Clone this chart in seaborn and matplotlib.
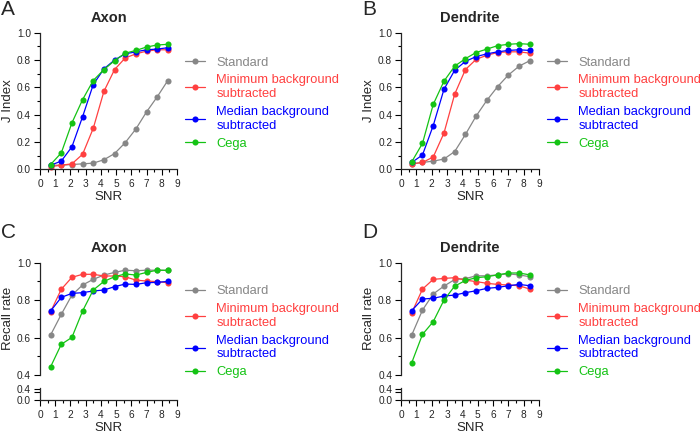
import matplotlib
matplotlib.use("Agg")
import matplotlib.pyplot as plt
from matplotlib.ticker import MultipleLocator, FormatStrFormatter, FixedLocator
import seaborn as sns

snr = [0.7, 1.4, 2.1, 2.8, 3.5, 4.2, 4.9, 5.6, 6.3, 7.0, 7.7, 8.4]
methods = ["Standard", "Minimum background\nsubtracted", "Median background\nsubtracted", "Cega"]
colors = ["#878787", "#FF4040", "#0000FF", "#14C314"]

# J index
axon_j_std = [0.03, 0.03, 0.035, 0.04, 0.045, 0.07, 0.115, 0.195, 0.295, 0.42, 0.53, 0.65]
axon_j_min = [0.02, 0.03, 0.04, 0.11, 0.30, 0.57, 0.73, 0.815, 0.845, 0.865, 0.875, 0.875]
axon_j_med = [0.03, 0.06, 0.165, 0.385, 0.62, 0.735, 0.80, 0.845, 0.86, 0.875, 0.88, 0.89]
axon_j_cega = [0.035, 0.12, 0.34, 0.51, 0.65, 0.73, 0.795, 0.85, 0.87, 0.895, 0.91, 0.915]

dend_j_std = [0.04, 0.05, 0.06, 0.075, 0.13, 0.255, 0.39, 0.505, 0.605, 0.69, 0.755, 0.795]
dend_j_min = [0.04, 0.05, 0.09, 0.265, 0.55, 0.73, 0.805, 0.835, 0.855, 0.86, 0.86, 0.85]
dend_j_med = [0.05, 0.105, 0.32, 0.585, 0.725, 0.79, 0.825, 0.845, 0.86, 0.87, 0.875, 0.87]
dend_j_cega = [0.055, 0.19, 0.475, 0.645, 0.755, 0.81, 0.855, 0.88, 0.905, 0.915, 0.92, 0.915]

# recall rate
axon_r_std = [0.614, 0.724, 0.827, 0.881, 0.911, 0.934, 0.948, 0.96, 0.957, 0.96, 0.96, 0.959]
axon_r_min = [0.738, 0.858, 0.922, 0.938, 0.938, 0.929, 0.929, 0.925, 0.907, 0.902, 0.899, 0.893]
axon_r_med = [0.742, 0.815, 0.836, 0.84, 0.849, 0.854, 0.872, 0.886, 0.884, 0.893, 0.895, 0.90]
axon_r_cega = [0.444, 0.564, 0.601, 0.742, 0.854, 0.90, 0.925, 0.94, 0.934, 0.948, 0.96, 0.959]

dend_r_std = [0.614, 0.747, 0.833, 0.875, 0.91, 0.915, 0.93, 0.93, 0.935, 0.94, 0.935, 0.925]
dend_r_min = [0.733, 0.859, 0.911, 0.916, 0.92, 0.907, 0.899, 0.89, 0.884, 0.881, 0.877, 0.859]
dend_r_med = [0.744, 0.806, 0.81, 0.822, 0.827, 0.84, 0.85, 0.863, 0.868, 0.877, 0.884, 0.877]
dend_r_cega = [0.466, 0.617, 0.685, 0.80, 0.875, 0.905, 0.92, 0.925, 0.935, 0.945, 0.945, 0.935]

sns.set_style("ticks")
plt.rcParams["font.family"] = ["Liberation Sans", "DejaVu Sans"]
plt.rcParams["axes.linewidth"] = 0.9


def style_ticks(ax):
  ax.tick_params(which="major", direction="out", length=4.0, width=0.8, labelsize=7.3, pad=2.4, color="black")
  ax.tick_params(which="minor", direction="out", length=2.3, width=0.8, color="black")
  ax.tick_params(axis="x", which="major", pad=3.2)


def draw_lines(ax, series, leg_y):
  for name, vals, col in zip(methods, series, colors):
    sns.lineplot(x=snr, y=vals, ax=ax, color=col, marker="o", markersize=4.4,
                 markeredgewidth=0, linewidth=0.9, label=name, clip_on=False)
  leg = ax.legend(loc="upper left", bbox_to_anchor=(1.06, leg_y), frameon=False, fontsize=9.3,
                  handlelength=1.55, handletextpad=0.85, labelspacing=0.45, borderpad=0, borderaxespad=0)
  for txt, col in zip(leg.get_texts(), colors):
    txt.set_color(col)


def setup_x(ax):
  ax.set_xlim(0, 9)
  ax.xaxis.set_major_locator(MultipleLocator(1))
  ax.xaxis.set_minor_locator(MultipleLocator(0.5))
  ax.set_xlabel("SNR", fontsize=9.5, labelpad=1.5)


def j_panel(rect, title, series):
  ax = fig.add_axes(rect)
  draw_lines(ax, series, 0.825)
  ax.set_ylim(0, 1.0)
  ax.yaxis.set_major_locator(MultipleLocator(0.2))
  ax.yaxis.set_minor_locator(MultipleLocator(0.1))
  ax.yaxis.set_major_formatter(FormatStrFormatter("%.1f"))
  setup_x(ax)
  ax.set_ylabel("J Index", fontsize=9.5, labelpad=2)
  ax.set_title(title, fontsize=10.5, fontweight="bold", pad=8)
  sns.despine(ax=ax)
  style_ticks(ax)
  return ax


def recall_panel(rect_top, rect_bot, title, series):
  ax = fig.add_axes(rect_top)
  axb = fig.add_axes(rect_bot)
  draw_lines(ax, series, 0.80)
  ax.set_ylim(0.4, 1.0)
  ax.yaxis.set_major_locator(MultipleLocator(0.2))
  ax.yaxis.set_minor_locator(MultipleLocator(0.1))
  ax.yaxis.set_major_formatter(FormatStrFormatter("%.1f"))
  ax.set_xlim(0, 9)
  ax.set_xlabel("")
  ax.set_xticks([])
  ax.set_ylabel("Recall rate", fontsize=9.5, labelpad=2)
  ax.set_title(title, fontsize=10.5, fontweight="bold", pad=8)
  sns.despine(ax=ax, bottom=True)
  style_ticks(ax)
  ax.tick_params(bottom=False, labelbottom=False)

  # short lower segment of the broken y axis
  axb.set_ylim(0, 0.44)
  axb.yaxis.set_major_locator(FixedLocator([0.0, 0.4]))
  axb.yaxis.set_minor_locator(FixedLocator([0.3]))
  axb.yaxis.set_major_formatter(FormatStrFormatter("%.1f"))
  setup_x(axb)
  sns.despine(ax=axb)
  style_ticks(axb)
  axb.tick_params(axis="y", which="minor", length=4.0)
  return ax, axb


fig = plt.figure(figsize=(7.0, 4.33), dpi=100)

j_panel([0.0571, 0.609, 0.1957, 0.3155], "Axon", [axon_j_std, axon_j_min, axon_j_med, axon_j_cega])
j_panel([0.5729, 0.609, 0.1971, 0.3155], "Dendrite", [dend_j_std, dend_j_min, dend_j_med, dend_j_cega])
recall_panel([0.0571, 0.1339, 0.1957, 0.2594], [0.0571, 0.0762, 0.1957, 0.0273], "Axon",
             [axon_r_std, axon_r_min, axon_r_med, axon_r_cega])
recall_panel([0.5729, 0.1339, 0.1971, 0.2594], [0.5729, 0.0762, 0.1971, 0.0273], "Dendrite",
             [dend_r_std, dend_r_min, dend_r_med, dend_r_cega])

for letter, x, y in [("A", 0.002, 1.0), ("B", 0.518, 1.0), ("C", 0.002, 0.484), ("D", 0.518, 0.484)]:
  fig.text(x, y, letter, fontsize=15, va="top", ha="left")

fig.savefig("out.png", dpi=100)
